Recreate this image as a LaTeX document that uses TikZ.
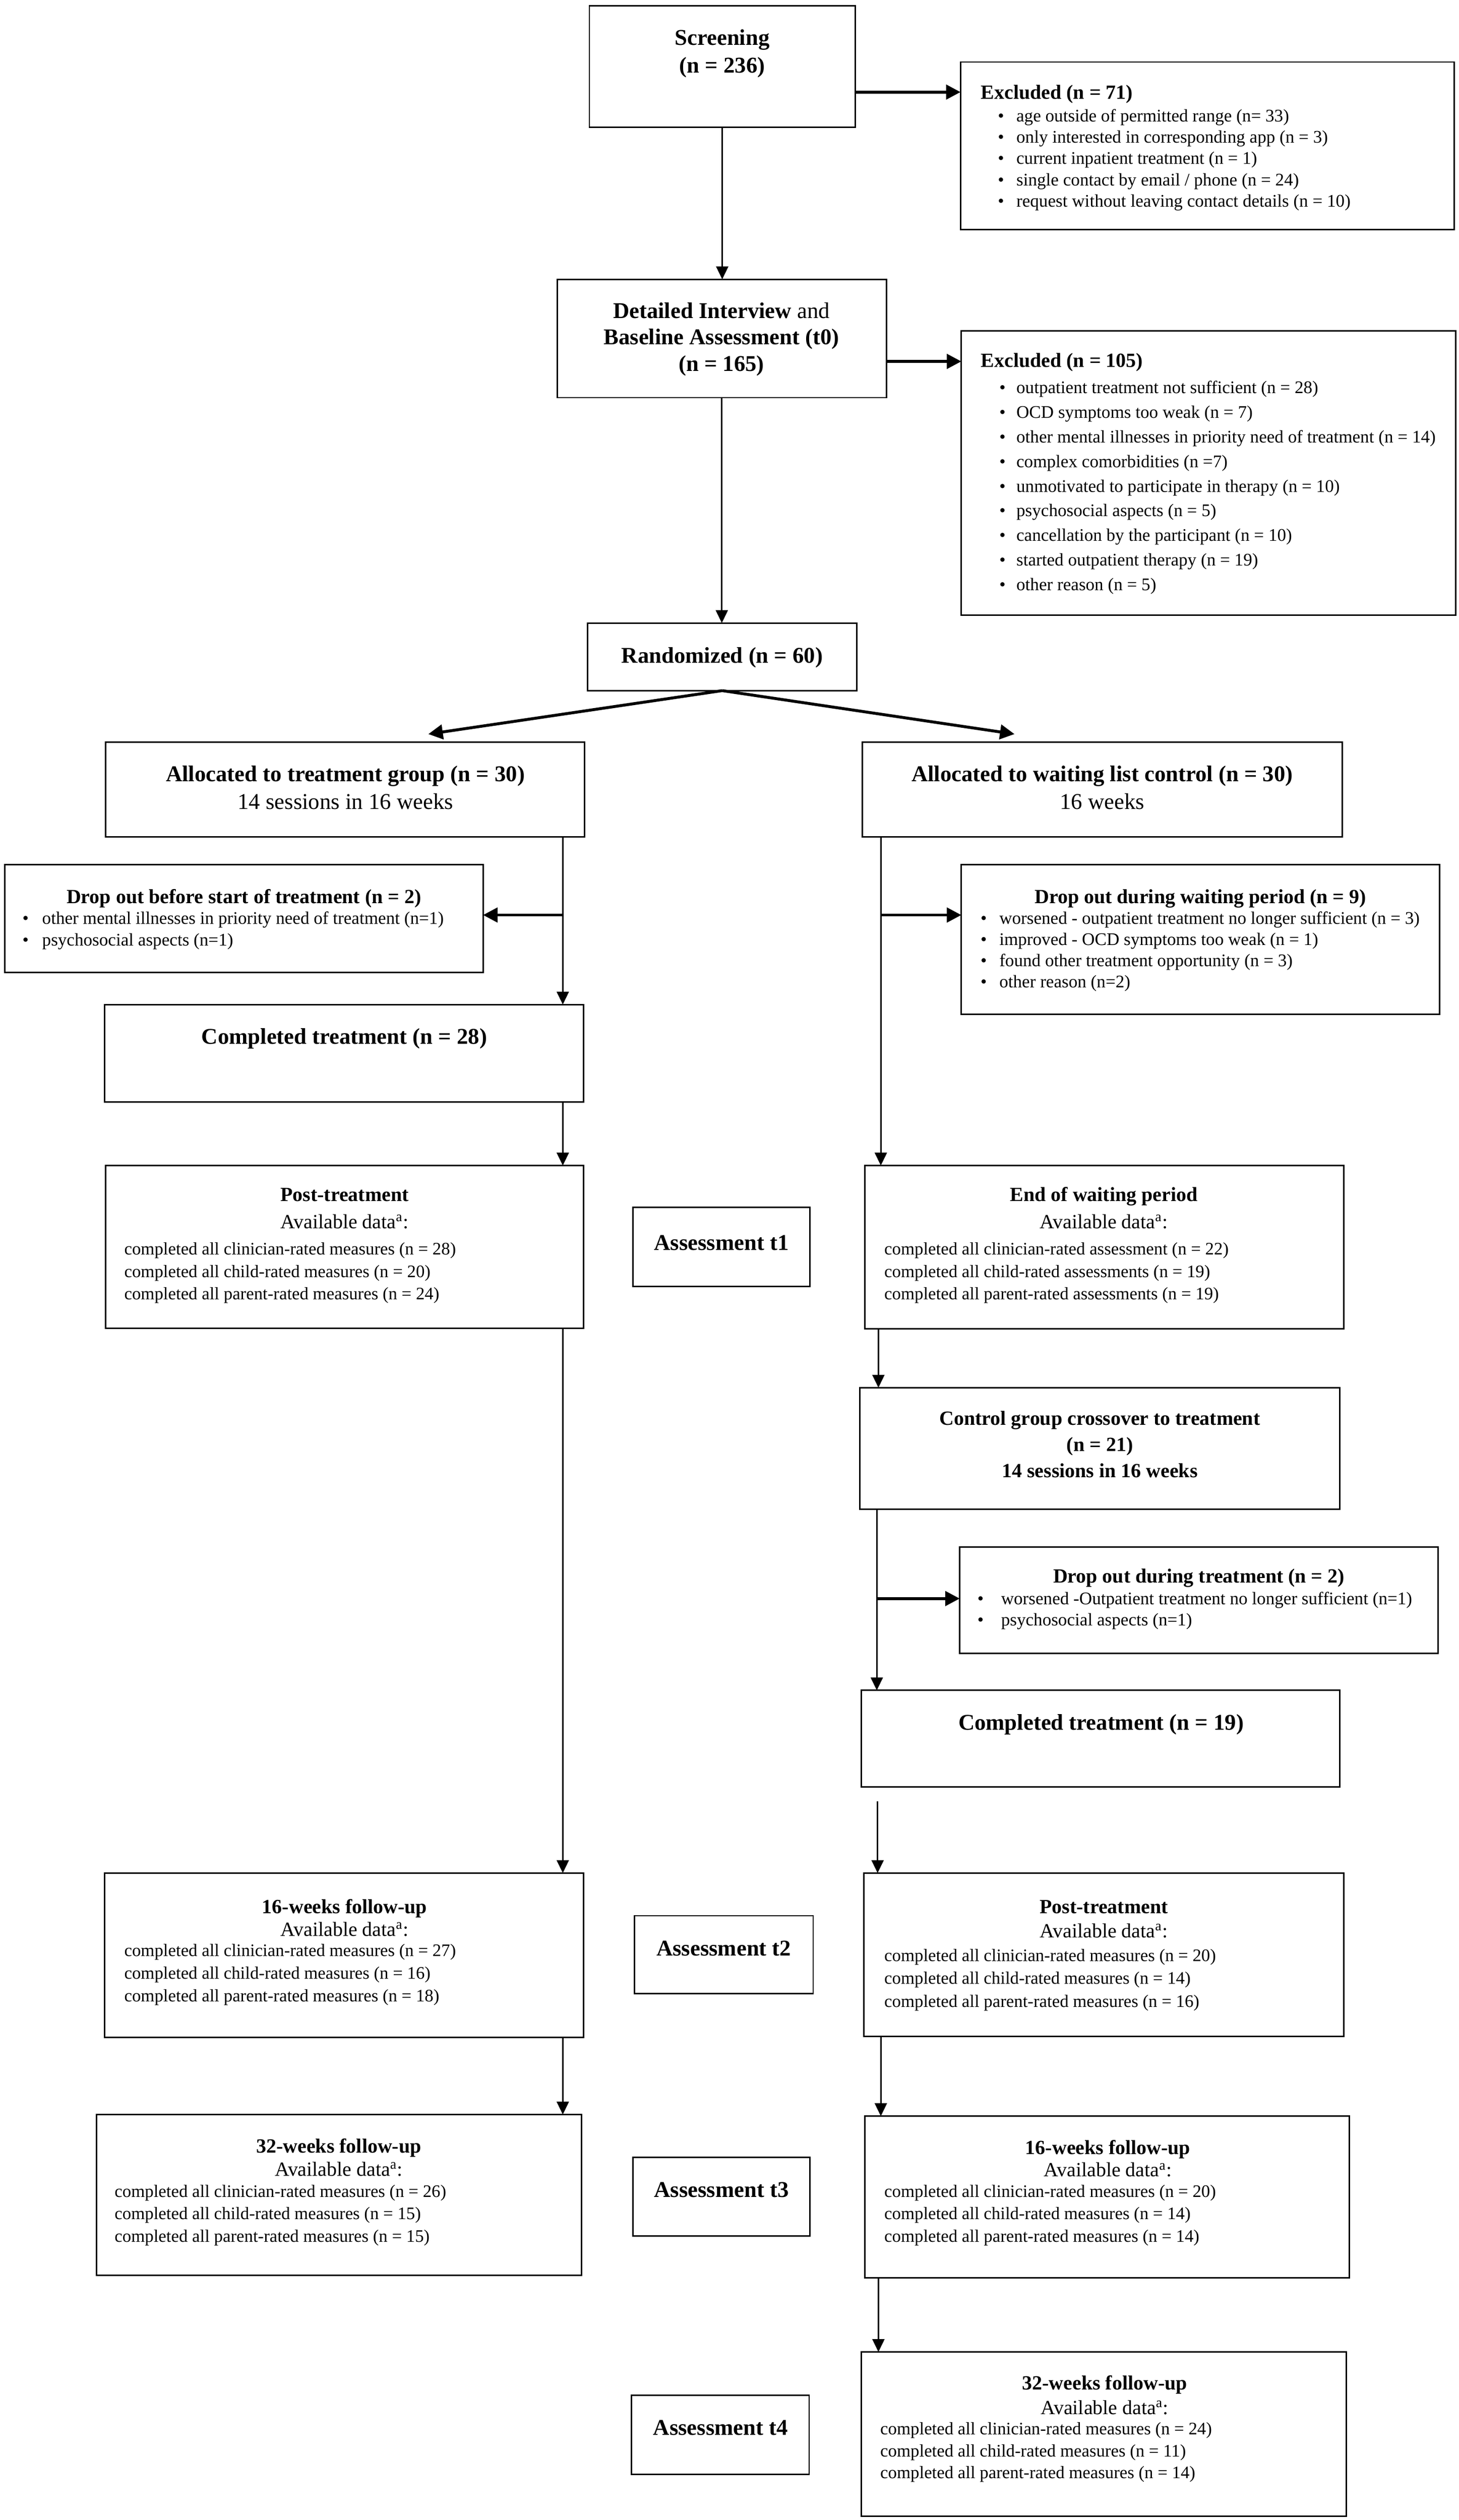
\documentclass[tikz,border=0pt]{standalone}
\usepackage{fontspec}
\setmainfont{Liberation Serif}
\usetikzlibrary{arrows.meta}
\newcommand\cbx[5]{\node[cbox, minimum width={(#4-(#2))*1pt}, minimum height={(#5-(#3))*1pt}] (#1) at ({(#2+#4)/2},{(#3+#5)/2}) {};}
\begin{document}
\begin{tikzpicture}[x=1pt,y=-1pt,
  cbox/.style={draw, line width=0.9pt, inner sep=0pt, outer sep=0pt},
  flow/.style={line width=1pt, -{Triangle[length=8pt,width=7.5pt]}},
  side/.style={line width=1.8pt, -{Triangle[length=9pt,width=9pt]}},
  tbig/.style={inner sep=0pt, font=\fontsize{14}{16}\selectfont\bfseries, text height=9.6pt, text depth=2.6pt},
  tbigr/.style={tbig, font=\fontsize{14}{16}\selectfont},
  tmid/.style={inner sep=0pt, font=\fontsize{12.5}{15}\selectfont\bfseries, text height=8.6pt, text depth=2.3pt},
  tmidr/.style={tmid, font=\fontsize{12.5}{15}\selectfont},
  titem/.style={inner sep=0pt, font=\fontsize{11}{13}\selectfont, text height=7.5pt, text depth=2pt},
  tdat/.style={inner sep=0pt, font=\fontsize{10.9}{13}\selectfont, text height=7.5pt, text depth=2pt}]
\useasboundingbox (0,0) rectangle (906,1565.4);
\fill[white] (0,0) rectangle (906,1565.4);

% ---------- boxes ----------
\cbx{scr}{366}{3.5}{531}{79}
\cbx{exa}{596.5}{38.5}{903}{142.5}
\cbx{det}{346}{173.5}{550.5}{247}
\cbx{exb}{597}{205.5}{904}{382}
\cbx{rnd}{365}{387}{532}{429}
\cbx{alt}{65.5}{461}{363}{520}
\cbx{alw}{535.5}{461}{833.5}{520}
\cbx{dol}{3}{537}{300}{604}
\cbx{dor}{597}{537}{894}{630}
\cbx{ctl}{65}{624}{362.5}{684.5}
\cbx{ptl}{65.5}{724}{362.5}{825}
\cbx{as1}{393}{750}{503}{799}
\cbx{ewr}{537}{724}{834.5}{825.5}
\cbx{cro}{534}{862}{832}{937.5}
\cbx{dod}{596}{961}{893}{1027}
\cbx{ctr}{535}{1050}{832}{1110}
\cbx{f16l}{65}{1163.5}{362.5}{1265.5}
\cbx{as2}{394}{1190}{505}{1238.5}
\cbx{ptr}{536.5}{1163.5}{834.5}{1265}
\cbx{f32l}{60}{1313.5}{361}{1413.5}
\cbx{as3}{393}{1340}{503}{1389}
\cbx{f16r}{537}{1314.5}{838}{1415}
\cbx{as4}{392}{1488}{502.5}{1537}
\cbx{f32r}{535}{1461}{836}{1563}

% ---------- texts ----------
\node[tbig] (scrA) at (448.5,24.5) {Screening};
\node[tbig] (scrB) at (448.5,41.7) {(n = 236)};

\node[tmid, anchor=west] (exaT) at (609,58.5) {Excluded (n = 71)};
\foreach \t [count=\i] in {age outside of permitted range (n= 33),only interested in corresponding app (n = 3),current inpatient treatment (n = 1),single contact by email / phone (n = 24),request without leaving contact details (n = 10)}{
  \node[titem, anchor=west] (exaB\i) at (619.5,{72.8+13.25*(\i-1)}) {•};
  \node[titem, anchor=west] (exaI\i) at (631,{72.8+13.25*(\i-1)}) {\t};
}

\node[tbig] (detA) at (448,194.2) {Detailed Interview \mdseries and};
\node[tbig] (detB) at (448,210.4) {Baseline Assessment (t0)};
\node[tbig] (detC) at (448,227.2) {(n = 165)};

\node[tmid, anchor=west] (exbT) at (609,225) {Excluded (n = 105)};
\foreach \t [count=\i] in {outpatient treatment not sufficient (n = 28),OCD symptoms too weak (n = 7),other mental illnesses in priority need of treatment (n = 14),complex comorbidities (n =7),unmotivated to participate in therapy (n = 10),psychosocial aspects (n = 5),cancellation by the participant (n = 10),started outpatient therapy (n = 19),other reason (n = 5)}{
  \node[titem, anchor=west] (exbB\i) at (620.4,{241.7+15.28*(\i-1)}) {•};
  \node[titem, anchor=west] (exbI\i) at (631,{241.7+15.28*(\i-1)}) {\t};
}

\node[tbig] (rndT) at (448.5,408.5) {Randomized (n = 60)};

\node[tbig] (altA) at (214.5,482) {Allocated to treatment group (n = 30)};
\node[tbigr] (altB) at (214.5,499) {14 sessions in 16 weeks};
\node[tbig] (alwA) at (684.5,482) {Allocated to waiting list control (n = 30)};
\node[tbigr] (alwB) at (684.5,499) {16 weeks};

\node[tmid] (dolT) at (151.5,558) {Drop out before start of treatment (n = 2)};
\foreach \t [count=\i] in {other mental illnesses in priority need of treatment (n=1),psychosocial aspects (n=1)}{
  \node[titem, anchor=west] (dolB\i) at (13.8,{571.2+13.4*(\i-1)}) {•};
  \node[titem, anchor=west] (dolI\i) at (26,{571.2+13.4*(\i-1)}) {\t};
}

\node[tmid] (dorT) at (745.5,558) {Drop out during waiting period (n = 9)};
\foreach \t [count=\i] in {worsened - outpatient treatment no longer sufficient (n = 3),improved - OCD symptoms too weak (n = 1),found other treatment opportunity (n = 3),other reason (n=2)}{
  \node[titem, anchor=west] (dorB\i) at (608.8,{571.2+13.2*(\i-1)}) {•};
  \node[titem, anchor=west] (dorI\i) at (620.4,{571.2+13.2*(\i-1)}) {\t};
}

\node[tbig] (ctlT) at (213.8,645) {Completed treatment (n = 28)};

\node[tmid] (ptlT) at (214,743) {Post-treatment};
\node[tmidr] (ptlA) at (214,760) {Available data\textsuperscript{a}:};
\foreach \t [count=\i] in {completed all clinician-rated measures (n = 28),completed all child-rated measures (n = 20),completed all parent-rated measures (n = 24)}{
  \node[tdat, anchor=west] (ptlI\i) at (77,{776.6+14*(\i-1)}) {\t};
}

\node[tbig] (as1T) at (448,773) {Assessment t1};

\node[tmid] (ewrT) at (685.5,743) {End of waiting period};
\node[tmidr] (ewrA) at (685.5,760) {Available data\textsuperscript{a}:};
\foreach \t [count=\i] in {completed all clinician-rated assessment (n = 22),completed all child-rated assessments (n = 19),completed all parent-rated assessments (n = 19)}{
  \node[tdat, anchor=west] (ewrI\i) at (549,{776.6+14*(\i-1)}) {\t};
}

\node[tmid] (croA) at (683,882) {Control group crossover to treatment};
\node[tmid] (croB) at (683,898.5) {(n = 21)};
\node[tmid] (croC) at (683,914.6) {14 sessions in 16 weeks};

\node[tmid] (dodT) at (744.5,980) {Drop out during treatment (n = 2)};
\foreach \t [count=\i] in {worsened -Outpatient treatment no longer sufficient (n=1),psychosocial aspects (n=1)}{
  \node[titem, anchor=west] (dodB\i) at (606.8,{994+13.2*(\i-1)}) {•};
  \node[titem, anchor=west] (dodI\i) at (621.5,{994+13.2*(\i-1)}) {\t};
}

\node[tbig] (ctrT) at (683.8,1071) {Completed treatment (n = 19)};

\node[tmid] (f16lT) at (214,1185.6) {16-weeks follow-up};
\node[tmidr] (f16lA) at (214,1199.5) {Available data\textsuperscript{a}:};
\foreach \t [count=\i] in {completed all clinician-rated measures (n = 27),completed all child-rated measures (n = 16),completed all parent-rated measures (n = 18)}{
  \node[tdat, anchor=west] (f16lI\i) at (77,{1212.5+14*(\i-1)}) {\t};
}

\node[tbig] (as2T) at (449.5,1211.5) {Assessment t2};

\node[tmid] (ptrT) at (685.5,1185.5) {Post-treatment};
\node[tmidr] (ptrA) at (685.5,1200.5) {Available data\textsuperscript{a}:};
\foreach \t [count=\i] in {completed all clinician-rated measures (n = 20),completed all child-rated measures (n = 14),completed all parent-rated measures (n = 16)}{
  \node[tdat, anchor=west] (ptrI\i) at (549,{1215.5+14.3*(\i-1)}) {\t};
}

\node[tmid] (f32lT) at (210.4,1334) {32-weeks follow-up};
\node[tmidr] (f32lA) at (210.4,1348.6) {Available data\textsuperscript{a}:};
\foreach \t [count=\i] in {completed all clinician-rated measures (n = 26),completed all child-rated measures (n = 15),completed all parent-rated measures (n = 15)}{
  \node[tdat, anchor=west] (f32lI\i) at (71,{1362+14*(\i-1)}) {\t};
}

\node[tbig] (as3T) at (448,1361.5) {Assessment t3};

\node[tmid] (f16rT) at (688,1335) {16-weeks follow-up};
\node[tmidr] (f16rA) at (688,1349) {Available data\textsuperscript{a}:};
\foreach \t [count=\i] in {completed all clinician-rated measures (n = 20),completed all child-rated measures (n = 14),completed all parent-rated measures (n = 14)}{
  \node[tdat, anchor=west] (f16rI\i) at (549,{1362+14*(\i-1)}) {\t};
}

\node[tbig] (as4T) at (447.5,1509) {Assessment t4};

\node[tmid] (f32rT) at (686,1481.4) {32-weeks follow-up};
\node[tmidr] (f32rA) at (686,1496.6) {Available data\textsuperscript{a}:};
\foreach \t [count=\i] in {completed all clinician-rated measures (n = 24),completed all child-rated measures (n = 11),completed all parent-rated measures (n = 14)}{
  \node[tdat, anchor=west] (f32rI\i) at (546.5,{1509.6+13.6*(\i-1)}) {\t};
}

% ---------- connectors ----------
\coordinate (cL) at (349.5,0);
\coordinate (cR) at (547,0);
\coordinate (cM) at (545.5,0);
\coordinate (cN) at (544.5,0);

\draw[flow] (scr.south) -- (scr.south |- det.north);
\draw[side] (scr.east |- 0,57.2) -- (exa.west |- 0,57.2);
\draw[flow] (det.south) -- (det.south |- rnd.north);
\draw[side] (det.east |- 0,224.5) -- (exb.west |- 0,224.5);

\coordinate (tipL) at (266,456);
\coordinate (tipR) at (630,456);
\draw[side] (rnd.south) -- (tipL);
\draw[side] (rnd.south) -- (tipR);

\draw[flow] (alt.south -| cL) -- (ctl.north -| cL);
\coordinate (jL) at (349.5,568.4);
\draw[side] (jL) -- (dol.east |- jL);
\draw[flow] (ctl.south -| cL) -- (ptl.north -| cL);
\draw[flow] (ptl.south -| cL) -- (f16l.north -| cL);
\draw[flow] (f16l.south -| cL) -- (f32l.north -| cL);

\draw[flow] (alw.south -| cR) -- (ewr.north -| cR);
\coordinate (jR) at (547,568.4);
\draw[side] (jR) -- (dor.west |- jR);
\draw[flow] (ewr.south -| cM) -- (cro.north -| cM);
\draw[flow] (cro.south -| cN) -- (ctr.north -| cN);
\coordinate (jD) at (544.5,993);
\draw[side] (jD) -- (dod.west |- jD);
\coordinate (gap) at (545,1119);
\draw[flow] (gap) -- (ptr.north -| gap);
\draw[flow] (ptr.south -| cR) -- (f16r.north -| cR);
\draw[flow] (f16r.south -| cM) -- (f32r.north -| cM);
\end{tikzpicture}
\end{document}
